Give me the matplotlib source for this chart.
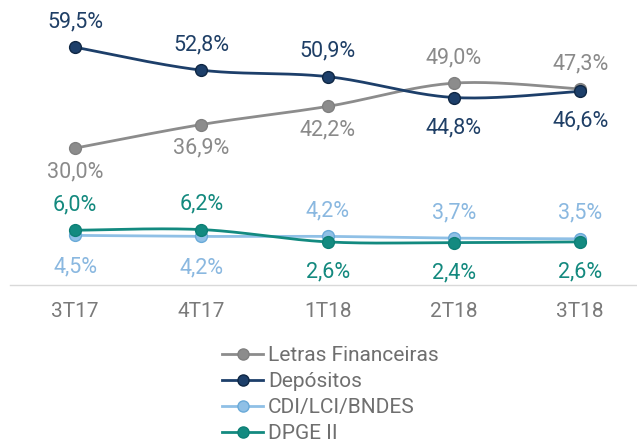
import numpy as np
import matplotlib
matplotlib.use("Agg")
import matplotlib.pyplot as plt
from matplotlib.lines import Line2D

plt.rcParams['font.family'] = ['Roboto', 'DejaVu Sans']

categories = ["3T17", "4T17", "1T18", "2T18", "3T18"]
letras = [30.0, 36.9, 42.2, 49.0, 47.3]
depositos = [59.5, 52.8, 50.9, 44.8, 46.6]
cdi = [4.5, 4.2, 4.2, 3.7, 3.5]
dpge = [6.0, 6.2, 2.6, 2.4, 2.6]
series_names = ["Letras Financeiras", "Depósitos", "CDI/LCI/BNDES", "DPGE II"]

# label placement: +1 above, -1 below
pos_letras = [-1, -1, -1, 1, 1]
pos_depositos = [1, 1, 1, -1, -1]
pos_cdi = [-1, -1, 1, 1, 1]
pos_dpge = [1, 1, -1, -1, -1]

W, H = 637, 447
fig = plt.figure(figsize=(W / 100, H / 100), dpi=100)
# axes in pixel coords: left 10, right 637, top 0, bottom 285
ax = fig.add_axes([10 / W, (H - 285) / H, (637 - 10) / W, 285 / H])
ax.set_xlim(-0.515, 4.45)
ax.set_ylim(-10.0, 73.3)

def spline(xs, ys, n=40):
    xs = np.asarray(xs, float); ys = np.asarray(ys, float)
    P = np.column_stack([xs, ys])
    out = []
    for i in range(len(P) - 1):
        p0 = P[i - 1] if i > 0 else P[i]
        p1 = P[i]; p2 = P[i + 1]
        p3 = P[i + 2] if i + 2 < len(P) else P[i + 1]
        c1 = p1 + (p2 - p0) / 6.0
        c2 = p2 - (p3 - p1) / 6.0
        t = np.linspace(0, 1, n)[:, None]
        seg = ((1 - t) ** 3) * p1 + 3 * ((1 - t) ** 2) * t * c1 + 3 * (1 - t) * t ** 2 * c2 + t ** 3 * p2
        out.append(seg if i == 0 else seg[1:])
    s = np.vstack(out)
    return s[:, 0], s[:, 1]

x = np.arange(len(categories))
styles = [
    (letras, pos_letras, "#8c8c8c", "#808080", "#8a8a8a", 29),
    (cdi, pos_cdi, "#8fc0e6", "#6aaad8", "#8ab8e0", 37),
    (dpge, pos_dpge, "#138a80", "#0d7f75", "#13897e", 36),
    (depositos, pos_depositos, "#1d3f6a", "#0f2744", "#1f3f66", 35.5),
]
z = 3
for vals, poss, lc, ec, tc, below in styles:
    sx, sy = spline(x, vals)
    ax.plot(sx, sy, color=lc, lw=2, zorder=z, solid_capstyle='round')
    ax.plot(x, vals, 'o', ms=8.5, mfc=lc, mec=ec, mew=1.0, zorder=z + 0.5)
    for xi, v, p in zip(x, vals, poss):
        off = 20 if p > 0 else -below
        ax.annotate(f"{v:.1f}%".replace('.', ','), (xi, v),
                    xytext=(0, off * 0.72), textcoords='offset points',
                    ha='center', va='baseline', fontsize=15.5, color=tc, zorder=10)
    z += 1

for s in ax.spines.values():
    s.set_visible(False)
ax.spines['bottom'].set_visible(True)
ax.spines['bottom'].set_color('#d9d9d9')
ax.spines['bottom'].set_linewidth(1.0)
ax.set_yticks([])
ax.set_xticks(x)
ax.set_xticklabels(categories, fontsize=15, color='#7a7a7a')
ax.tick_params(axis='x', length=0, pad=12.5)

handles = []
for name, lc, ec in [(series_names[0], "#8c8c8c", "#808080"),
                     (series_names[1], "#1d3f6a", "#0f2744"),
                     (series_names[2], "#8fc0e6", "#6aaad8"),
                     (series_names[3], "#138a80", "#0d7f75")]:
    handles.append(Line2D([], [], color=lc, lw=2, marker='o', ms=8, mfc=lc, mec=ec))
fig.legend(handles=handles, labels=series_names, loc='upper left',
           bbox_to_anchor=(222 / W, 1 - 346 / H), frameon=False, fontsize=15,
           handlelength=1.97, handletextpad=0.24, labelspacing=0.34, borderpad=0,
           borderaxespad=0, labelcolor='#6f6f6f')

fig.savefig("out.png", dpi=100)
